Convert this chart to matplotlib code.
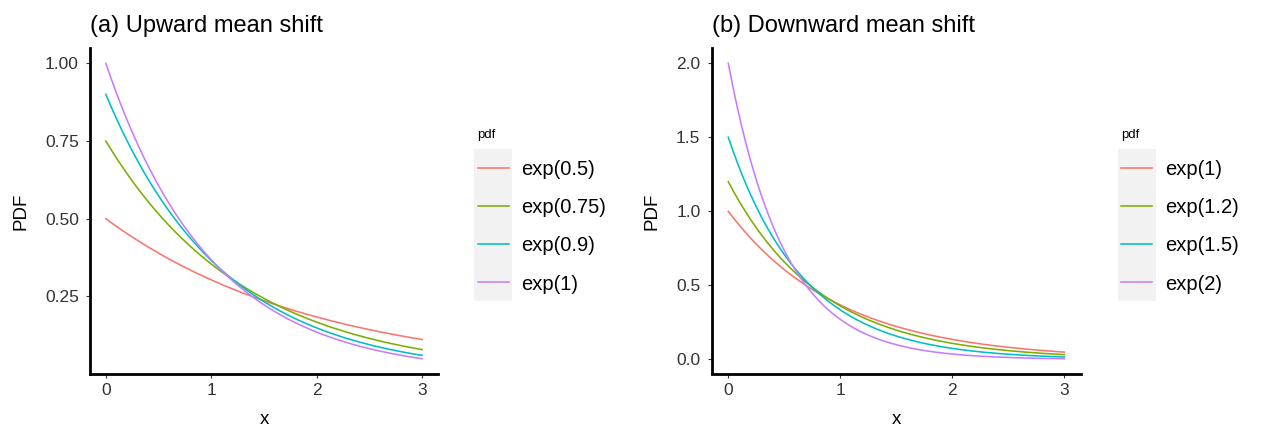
import numpy as np
import matplotlib
matplotlib.use('Agg')
import matplotlib.pyplot as plt
import matplotlib.ticker as ticker
from matplotlib.patches import Rectangle
from matplotlib.transforms import IdentityTransform

plt.rcParams['font.family'] = ['Liberation Sans', 'DejaVu Sans']

# exponential rates in each panel (legend labels give the rate)
rates_up = [0.5, 0.75, 0.9, 1.0]
labels_up = ['exp(0.5)', 'exp(0.75)', 'exp(0.9)', 'exp(1)']
rates_down = [1.0, 1.2, 1.5, 2.0]
labels_down = ['exp(1)', 'exp(1.2)', 'exp(1.5)', 'exp(2)']
yticks_up = [0.25, 0.50, 0.75, 1.00]
yticks_down = [0.0, 0.5, 1.0, 1.5, 2.0]
xticks = [0, 1, 2, 3]
colors = ['#F8766D', '#7CAE00', '#00BFC4', '#C77CFF']

x = np.linspace(0, 3, 301)

W, H = 1261, 428
fig = plt.figure(figsize=(W / 100, H / 100), dpi=100)


def px_axes(left, top, right, bottom):
    return fig.add_axes([left / W, 1 - bottom / H, (right - left) / W, (bottom - top) / H])


def panel(ax, rates, labels, yticks, fmt, title, leg_x, leg_y):
    for r, lab, c in zip(rates, labels, colors):
        ax.plot(x, r * np.exp(-r * x), color=c, lw=1.15, label=lab)
    ax.margins(x=0.05, y=0.05)
    ax.set_xticks(xticks)
    ax.set_yticks(yticks)
    ax.yaxis.set_major_formatter(ticker.FormatStrFormatter(fmt))
    for s in ['top', 'right']:
        ax.spines[s].set_visible(False)
    for s in ['left', 'bottom']:
        ax.spines[s].set_linewidth(2.0)
        ax.spines[s].set_color('black')
    ax.tick_params(axis='both', length=3, width=0.8, color='#333333',
                   labelsize=12.5, labelcolor='#333333')
    ax.tick_params(axis='y', pad=5)
    ax.tick_params(axis='x', pad=4)
    ax.set_xlabel('x', fontsize=13.5, labelpad=9)
    ax.set_ylabel('PDF', fontsize=13.5, labelpad=11)
    ax.set_title(title, loc='left', fontsize=17, pad=12)
    leg = ax.legend(title='pdf', loc='upper left',
                    bbox_to_anchor=(leg_x / W, 1 - leg_y / H),
                    bbox_transform=fig.transFigure, frameon=False,
                    fontsize=14.5, title_fontsize=9.5, alignment='left',
                    handlelength=1.55, handletextpad=0.62, labelspacing=0.95,
                    borderpad=0, borderaxespad=0)
    return leg


ax1 = px_axes(90, 48.5, 438, 373.5)
ax2 = px_axes(711.5, 48.5, 1081, 373.5)

leg1 = panel(ax1, rates_up, labels_up, yticks_up, '%.2f', '(a) Upward mean shift', 477.5, 129)
leg2 = panel(ax2, rates_down, labels_down, yticks_down, '%.1f', '(b) Downward mean shift', 1121, 129)

# grey key background like ggplot
fig.canvas.draw()
renderer = fig.canvas.get_renderer()
for leg in [leg1, leg2]:
    boxes = [h.get_window_extent(renderer) for h in leg.legend_handles]
    x0 = min(b.x0 for b in boxes) - 3.5
    x1 = max(b.x1 for b in boxes) + 3.5
    y0 = min(b.y0 for b in boxes) - 19
    y1 = max(b.y1 for b in boxes) + 19
    fig.patches.append(Rectangle((x0, y0), x1 - x0, y1 - y0, transform=IdentityTransform(),
                                 facecolor='#F2F2F2', edgecolor='none', zorder=-1))

fig.savefig('out.png', dpi=100)
